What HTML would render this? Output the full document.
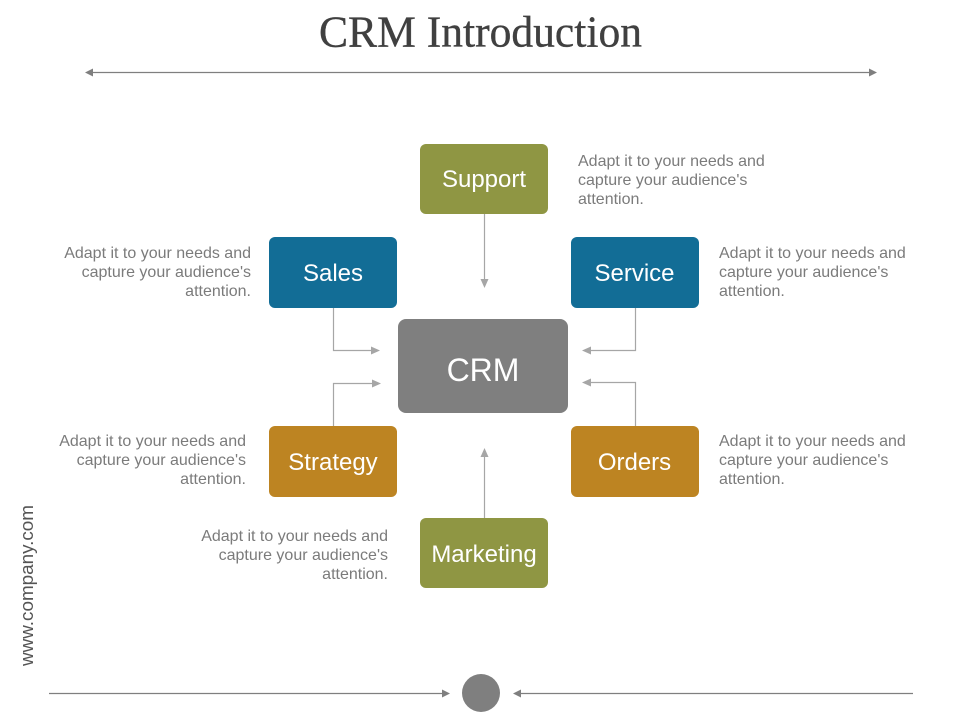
<!DOCTYPE html>
<html lang="en">
<head>
<meta charset="utf-8">
<title>CRM Introduction</title>
<style>
html,body{margin:0;padding:0;background:#fff}
svg{display:block}
text{font-family:"Liberation Sans",Arial,sans-serif}
.d{font-size:16px;fill:#7b7b7b}
.b{font-size:24px;fill:#fff;text-anchor:middle}
.e{text-anchor:end}
.l{stroke:#a6a6a6;stroke-width:1.2;fill:none}
.g{stroke:#7f7f7f;stroke-width:1.3;fill:none}
.ah{fill:#a6a6a6}
.ag{fill:#7f7f7f}
</style>
</head>
<body>
<svg width="960" height="720" viewBox="0 0 960 720" xmlns="http://www.w3.org/2000/svg">
<rect width="960" height="720" fill="#fff"/>

<text x="319" y="46.500" textLength="323" lengthAdjust="spacingAndGlyphs" style="font-family:'Liberation Serif',serif;font-size:44px;fill:#404040;stroke:#404040;stroke-width:.35">CRM Introduction</text>

<line class="g" x1="90" y1="72.500" x2="872" y2="72.500"/>
<polygon class="ag" points="85,72.500 93,68.500 93,76.500"/>
<polygon class="ag" points="877,72.500 869,68.500 869,76.500"/>

<!-- connectors -->
<path class="l" d="M484.500 214V282"/>
<polygon class="ah" points="484.500,288 480.500,279 488.500,279"/>
<path class="l" d="M333.500 308V350.500H373"/>
<polygon class="ah" points="380,350.500 371,346.500 371,354.500"/>
<path class="l" d="M635.500 308V350.500H589"/>
<polygon class="ah" points="582,350.500 591,346.500 591,354.500"/>
<path class="l" d="M333.500 426V383.500H374"/>
<polygon class="ah" points="381,383.500 372,379.500 372,387.500"/>
<path class="l" d="M635.500 426V382.500H589"/>
<polygon class="ah" points="582,382.500 591,378.500 591,386.500"/>
<path class="l" d="M484.500 518V455"/>
<polygon class="ah" points="484.500,448 480.500,457 488.500,457"/>

<!-- boxes -->
<rect x="420" y="144" width="128" height="70" rx="6" fill="#8f9643"/>
<rect x="269" y="237" width="128" height="71" rx="6" fill="#126d96"/>
<rect x="571" y="237" width="128" height="71" rx="6" fill="#126d96"/>
<rect x="398" y="319" width="170" height="94" rx="8" fill="#7f7f7f"/>
<rect x="269" y="426" width="128" height="71" rx="6" fill="#bd8422"/>
<rect x="571" y="426" width="128" height="71" rx="6" fill="#bd8422"/>
<rect x="420" y="518" width="128" height="70" rx="6" fill="#8f9643"/>

<text class="b" x="484" y="187">Support</text>
<text class="b" x="333" y="281">Sales</text>
<text class="b" x="634.500" y="281">Service</text>
<text class="b" x="483" y="381" style="font-size:32px">CRM</text>
<text class="b" x="333" y="470">Strategy</text>
<text class="b" x="634.500" y="470">Orders</text>
<text class="b" x="484" y="562">Marketing</text>

<!-- descriptions -->
<text class="d" x="578" y="166">Adapt it to your needs and</text>
<text class="d" x="578" y="185">capture your audience's</text>
<text class="d" x="578" y="204">attention.</text>

<text class="d e" x="251" y="258">Adapt it to your needs and</text>
<text class="d e" x="251" y="277">capture your audience's</text>
<text class="d e" x="251" y="296">attention.</text>

<text class="d" x="719" y="258">Adapt it to your needs and</text>
<text class="d" x="719" y="277">capture your audience's</text>
<text class="d" x="719" y="296">attention.</text>

<text class="d e" x="246" y="446">Adapt it to your needs and</text>
<text class="d e" x="246" y="465">capture your audience's</text>
<text class="d e" x="246" y="484">attention.</text>

<text class="d" x="719" y="446">Adapt it to your needs and</text>
<text class="d" x="719" y="465">capture your audience's</text>
<text class="d" x="719" y="484">attention.</text>

<text class="d e" x="388" y="541">Adapt it to your needs and</text>
<text class="d e" x="388" y="560">capture your audience's</text>
<text class="d e" x="388" y="579">attention.</text>

<!-- side url -->
<text x="0" y="0" transform="translate(33 666) rotate(-90)" textLength="161" lengthAdjust="spacingAndGlyphs" style="font-size:18.500px;fill:#555">www.company.com</text>

<!-- footer -->
<line class="g" x1="49" y1="693.500" x2="445" y2="693.500"/>
<polygon class="ag" points="450,693.500 442,689.500 442,697.500"/>
<circle cx="481" cy="693" r="19" fill="#7f7f7f"/>
<line class="g" x1="518" y1="693.500" x2="913" y2="693.500"/>
<polygon class="ag" points="513,693.500 521,689.500 521,697.500"/>
</svg>
</body>
</html>
